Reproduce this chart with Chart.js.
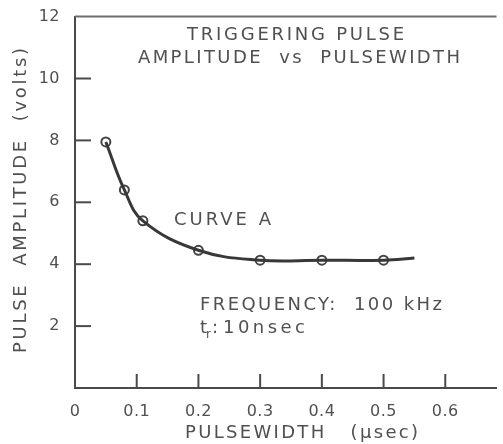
<!DOCTYPE html>
<html><head><meta charset="utf-8">
<script src="https://cdn.jsdelivr.net/npm/chart.js@4/dist/chart.umd.min.js"></script>
<style>html,body{margin:0;padding:0;background:#fff;overflow:hidden}</style>
</head><body>
<canvas id="c" width="503" height="444"></canvas>
<script>
// ---- data ----
const pulseWidth = [0.05, 0.08, 0.11, 0.2, 0.3, 0.4, 0.5];      // µsec (measured points)
const amplitude  = [7.95, 6.4, 5.4, 4.45, 4.13, 4.13, 4.13];     // volts
const curveEndWidth = [0.55];                                   // curve continues past last point
const curveEndAmplitude = [4.2];
const xTicks = [0, 0.1, 0.2, 0.3, 0.4, 0.5, 0.6];
const yTicks = [2, 4, 6, 8, 10, 12];
const xRange = [0, 0.683];
const yRange = [0, 12];
const titleLines = ['TRIGGERING PULSE', 'AMPLITUDE  vs  PULSEWIDTH'];
const curveLabel = 'CURVE A';
const freqLabel = 'FREQUENCY:  100 kHz';
const riseLabel = ['t', 'r', ':', '10nsec'];
const xTitle = 'PULSEWIDTH   (μsec)';
const yTitle = 'PULSE  AMPLITUDE  (volts)';

const curvePoints = pulseWidth.map((w, i) => ({x: w, y: amplitude[i]}))
  .concat(curveEndWidth.map((w, i) => ({x: w, y: curveEndAmplitude[i]})));
const markerPoints = pulseWidth.map((w, i) => ({x: w, y: amplitude[i]}));

const TEXT = '#505050';
const FONT = '"DejaVu Sans", Verdana, sans-serif';

function fitText(ctx, str, x, y, width) {
  ctx.letterSpacing = '0px';
  const natural = ctx.measureText(str).width;
  const sp = str.length > 1 ? (width - natural) / (str.length - 1) : 0;
  ctx.letterSpacing = sp + 'px';
  ctx.textAlign = 'left';
  ctx.fillText(str, x, y);
  ctx.letterSpacing = '0px';
}

const decor = {
  id: 'decor',
  beforeDraw(chart) { chart.ctx.letterSpacing = '0.5px'; },
  afterDraw(chart) {
    const {ctx, chartArea: a, scales: {x, y}} = chart;
    ctx.save();
    ctx.letterSpacing = '0px';
    // top frame line
    ctx.strokeStyle = '#6e6e6e'; ctx.lineWidth = 2;
    ctx.beginPath(); ctx.moveTo(a.left, a.top); ctx.lineTo(a.right, a.top); ctx.stroke();
    // inward tick marks
    ctx.strokeStyle = '#4a4a4a'; ctx.lineWidth = 2;
    yTicks.forEach(v => {
      if (v >= yRange[1]) return;
      const py = y.getPixelForValue(v);
      ctx.beginPath(); ctx.moveTo(a.left, py); ctx.lineTo(a.left + 16, py); ctx.stroke();
    });
    xTicks.forEach(v => {
      if (v <= xRange[0]) return;
      const px = x.getPixelForValue(v);
      ctx.beginPath(); ctx.moveTo(px, a.bottom); ctx.lineTo(px, a.bottom - 14); ctx.stroke();
    });
    // annotations
    ctx.fillStyle = TEXT;
    ctx.textBaseline = 'alphabetic';
    ctx.font = '18px ' + FONT;
    fitText(ctx, titleLines[0], 187, 40, 217);
    fitText(ctx, titleLines[1], 138, 63, 322);
    fitText(ctx, curveLabel, 174, 225, 97);
    fitText(ctx, freqLabel, 200, 310, 242);
    // t_r: 10nsec
    ctx.fillText(riseLabel[0], 200, 333);
    ctx.font = '12px ' + FONT;
    ctx.fillText(riseLabel[1], 206, 338);
    ctx.font = '18px ' + FONT;
    ctx.fillText(riseLabel[2], 212, 333);
    fitText(ctx, riseLabel[3], 223, 333, 82);
    // axis titles
    fitText(ctx, xTitle, 185, 437.5, 233);
    ctx.save();
    ctx.translate(25.5, 200.5);
    ctx.rotate(-Math.PI / 2);
    fitText(ctx, yTitle, -152.5, 0, 305);
    ctx.restore();
    ctx.restore();
  }
};

new Chart(document.getElementById('c'), {
  type: 'line',
  data: {
    datasets: [
      {
        data: curvePoints,
        borderColor: '#383838',
        borderWidth: 3,
        tension: 0.4,
        pointRadius: 0,
        fill: false
      },
      {
        data: markerPoints,
        showLine: false,
        pointRadius: 4.5,
        pointBorderWidth: 2,
        pointBorderColor: '#444',
        pointBackgroundColor: '#fff'
      }
    ]
  },
  options: {
    responsive: false,
    animation: false,
    devicePixelRatio: 1,
    layout: {padding: {top: 13, left: 0, right: 0, bottom: 0}},
    plugins: {legend: {display: false}, tooltip: {enabled: false}, title: {display: false}},
    scales: {
      x: {
        type: 'linear',
        min: xRange[0], max: xRange[1],
        afterBuildTicks: s => { s.ticks = xTicks.map(v => ({value: v})); },
        afterFit: s => { s.height = 56; },
        grid: {display: false},
        border: {display: true, color: '#4a4a4a', width: 2},
        ticks: {color: TEXT, font: {family: FONT, size: 16}, padding: 6, maxRotation: 0,
                callback: v => String(v)}
      },
      y: {
        type: 'linear',
        min: yRange[0], max: yRange[1],
        afterBuildTicks: s => { s.ticks = yTicks.map(v => ({value: v})); },
        afterFit: s => { s.width = 75; },
        grid: {display: false},
        border: {display: true, color: '#4a4a4a', width: 2},
        ticks: {color: TEXT, font: {family: FONT, size: 16}, padding: 7,
                callback: v => String(v)}
      }
    }
  },
  plugins: [decor]
});
</script>
</body></html>
